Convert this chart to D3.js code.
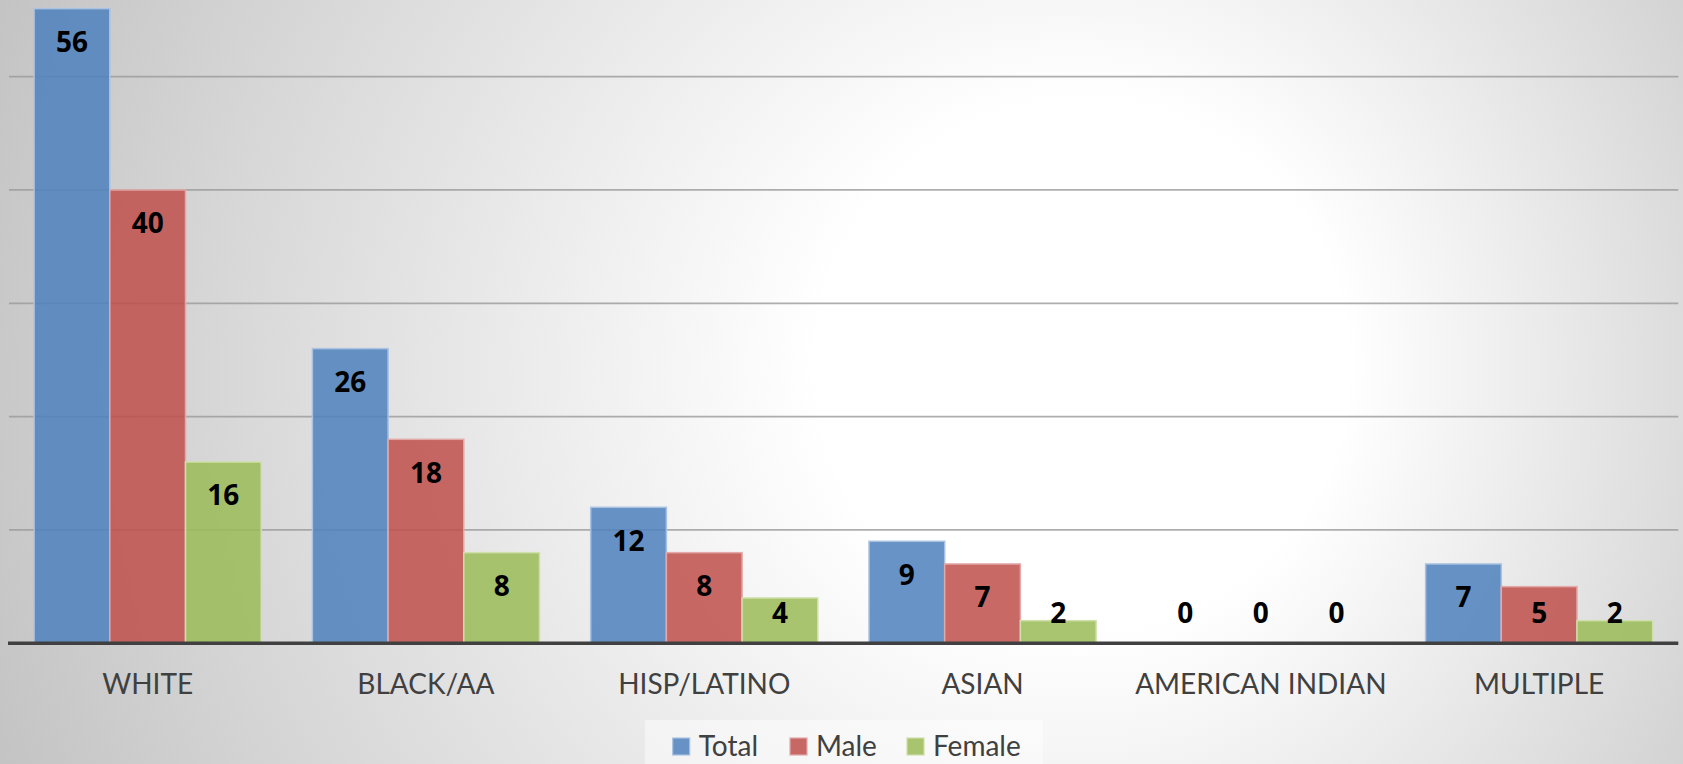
<!DOCTYPE html>
<html>
<head>
<meta charset="utf-8">
<script src="https://cdn.jsdelivr.net/npm/d3@7"></script>
<style>
  html, body { margin: 0; padding: 0; background: #fff; }
  svg { display: block; }
</style>
</head>
<body>
<svg id="chart" width="1683" height="764"></svg>
<script>
// ---- data ----
const categories = ["WHITE", "BLACK/AA", "HISP/LATINO", "ASIAN", "AMERICAN INDIAN", "MULTIPLE"];
const seriesNames = ["Total", "Male", "Female"];
const totalValues  = [56, 26, 12, 9, 0, 7];
const maleValues   = [40, 18, 8, 7, 0, 5];
const femaleValues = [16, 8, 4, 2, 0, 2];
const gridTicks = [10, 20, 30, 40, 50];
const seriesColors = ["#4F81BD", "#C0504D", "#9BBB59"];
const seriesStroke = ["#a9c2e2", "#e2a9a8", "#cfe0ac"];

const seriesValues = [totalValues, maleValues, femaleValues];

const W = 1683, H = 764;
const svg = d3.select("#chart");

// ---- background ----
const defs = svg.append("defs");
const grad = defs.append("radialGradient")
  .attr("id", "bg")
  .attr("gradientUnits", "userSpaceOnUse")
  .attr("cx", 920).attr("cy", 382).attr("r", 1020)
  .attr("fx", 1140).attr("fy", 360);
grad.append("stop").attr("offset", "0").attr("stop-color", "#ffffff");
grad.append("stop").attr("offset", "0.26").attr("stop-color", "#ffffff");
grad.append("stop").attr("offset", "1").attr("stop-color", "#c2c2c2");
svg.append("rect").attr("width", W).attr("height", H).attr("fill", "url(#bg)");

// ---- scales ----
const baseY = 643.3;
const x = d3.scaleBand().domain(categories).range([8.5, 1678.3])
  .paddingInner(0.184).paddingOuter(0.092);
const xs = d3.scaleBand().domain(seriesNames).range([0, x.bandwidth()]);
const y = d3.scaleLinear().domain([0, 60]).range([baseY, baseY - 680]);

// ---- gridlines ----
svg.append("g").selectAll("line").data(gridTicks).join("line")
  .attr("x1", 9).attr("x2", 1678.3)
  .attr("y1", d => y(d)).attr("y2", d => y(d))
  .attr("stroke", "#9a9a9a").attr("stroke-opacity", 0.8).attr("stroke-width", 1.7);

// ---- bars ----
const rows = [];
categories.forEach((c, i) => {
  seriesNames.forEach((s, j) => {
    rows.push({ cat: c, ser: s, j: j, v: seriesValues[j][i] });
  });
});

const gBars = svg.append("g");
gBars.selectAll("rect").data(rows.filter(d => d.v > 0)).join("rect")
  .attr("x", d => x(d.cat) + xs(d.ser))
  .attr("y", d => y(d.v))
  .attr("width", xs.bandwidth())
  .attr("height", d => baseY - y(d.v))
  .attr("fill", d => seriesColors[d.j])
  .attr("fill-opacity", 0.86)
  .attr("stroke", d => seriesStroke[d.j])
  .attr("stroke-width", 1.5);

// ---- axis line ----
svg.append("line")
  .attr("x1", 8).attr("x2", 1678.3)
  .attr("y1", baseY).attr("y2", baseY)
  .attr("stroke", "#404040").attr("stroke-width", 3.5);

// ---- data labels ----
svg.append("g").selectAll("text").data(rows).join("text")
  .attr("x", d => x(d.cat) + xs(d.ser) + xs.bandwidth() / 2)
  .attr("y", d => Math.min(y(d.v) + 43.5, 623))
  .attr("text-anchor", "middle")
  .attr("font-family", "'Open Sans', Lato, sans-serif")
  .attr("font-weight", "bold")
  .attr("font-size", 28)
  .attr("fill", "#000")
  .text(d => d.v);

// ---- category labels ----
const xAxis = d3.axisBottom(x).tickSize(0).tickPadding(0);
const gx = svg.append("g").attr("transform", `translate(0,${baseY})`).call(xAxis);
gx.select(".domain").remove();
gx.selectAll("text")
  .attr("dy", 0).attr("y", 694 - baseY)
  .attr("font-family", "Lato, 'Open Sans', sans-serif")
  .attr("font-size", 28)
  .attr("fill", "#404040");

// ---- legend ----
svg.append("rect")
  .attr("x", 645).attr("y", 720).attr("width", 398).attr("height", 50)
  .attr("fill", "#ffffff").attr("fill-opacity", 0.45);
const legendX = [672.7, 790, 907];
const lg = svg.append("g").selectAll("g").data(seriesNames).join("g")
  .attr("transform", (d, i) => `translate(${legendX[i]},738)`);
lg.append("rect").attr("width", 17).attr("height", 17)
  .attr("fill", (d, i) => seriesColors[i]).attr("fill-opacity", 0.86)
  .attr("stroke", (d, i) => seriesStroke[i]).attr("stroke-width", 1.2);
lg.append("text").attr("x", 26).attr("y", 18)
  .attr("font-family", "Lato, 'Open Sans', sans-serif")
  .attr("font-size", 28)
  .attr("fill", "#404040")
  .text(d => d);
</script>
</body>
</html>
